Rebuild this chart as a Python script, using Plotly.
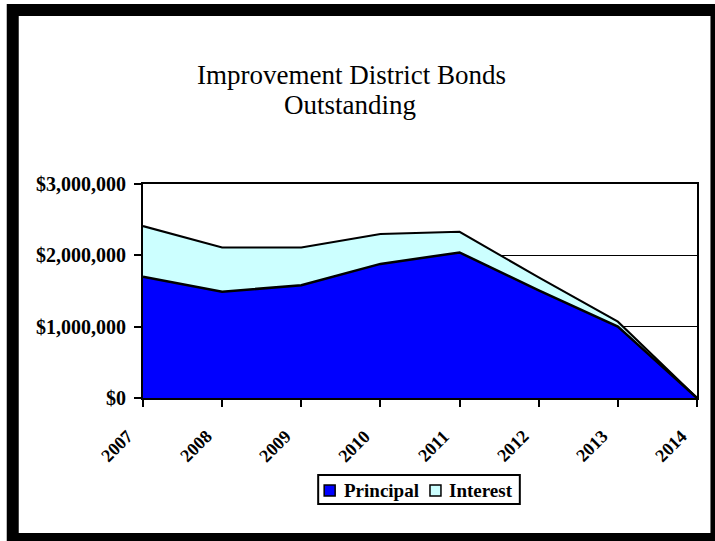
import plotly.graph_objects as go

years = ["2007", "2008", "2009", "2010", "2011", "2012", "2013", "2014"]
principal = [1700000, 1490000, 1580000, 1880000, 2040000, 1510000, 1000000, 0]
interest = [710000, 620000, 530000, 420000, 290000, 180000, 70000, 0]
series_names = ["Principal", "Interest"]
series_colors = ["#0000FF", "#CCFFFF"]
y_ticks = [0, 1000000, 2000000, 3000000]
title_lines = ["Improvement District Bonds", "Outstanding"]

W, H = 715, 541
L, R, T, B = 142.5, 697.5, 184, 398

def px(x):
    return (x - L) / (R - L)

def py(y):
    return (B - y) / (B - T)

SERIF = "Liberation Serif, Times New Roman, serif"

fig = go.Figure()
for name, vals, col, lw in zip(series_names, [principal, interest], series_colors, [2.5, 2]):
    fig.add_trace(go.Scatter(
        x=years, y=vals, mode="lines", stackgroup="one", name=name,
        line=dict(color="black", width=lw), fillcolor=col, showlegend=False,
        hoverinfo="skip",
    ))

annotations = []
annotations.append(dict(text=title_lines[0], x=px(351), y=py(75), xref="paper", yref="paper",
                        xanchor="center", yanchor="middle", showarrow=False,
                        font=dict(family=SERIF, size=27, color="black")))
annotations.append(dict(text=title_lines[1], x=px(350), y=py(105), xref="paper", yref="paper",
                        xanchor="center", yanchor="middle", showarrow=False,
                        font=dict(family=SERIF, size=27, color="black")))
for i, yr in enumerate(years):
    annotations.append(dict(text="<b>%s</b>" % yr, x=i, y=py(446), xref="x", yref="paper",
                            xshift=-26, xanchor="center", yanchor="middle", showarrow=False,
                            textangle=-45, font=dict(family=SERIF, size=18, color="black")))

# manual legend (box, swatches, labels)
shapes = [dict(type="rect", xref="paper", yref="paper",
               x0=px(12), x1=px(717), y0=py(10), y1=py(539),
               line=dict(color="black", width=12), fillcolor="rgba(0,0,0,0)", layer="above"),
          dict(type="rect", xref="paper", yref="paper",
               x0=px(318), x1=px(520), y0=py(475), y1=py(504),
               line=dict(color="black", width=2), fillcolor="white")]
legend_items = [(324, 342), (430, 447)]
for (sx, tx), name, col in zip(legend_items, series_names, series_colors):
    shapes.append(dict(type="rect", xref="paper", yref="paper",
                       x0=px(sx), x1=px(sx + 11), y0=py(485), y1=py(496),
                       line=dict(color="black", width=1.5), fillcolor=col))
    annotations.append(dict(text="<b>%s</b>" % name, x=px(tx), y=py(490), xref="paper", yref="paper",
                            xanchor="left", yanchor="middle", showarrow=False,
                            font=dict(family=SERIF, size=19, color="black")))

fig.update_layout(
    width=W, height=H,
    margin=dict(l=L, r=W - R, t=T, b=H - B),
    paper_bgcolor="white", plot_bgcolor="white",
    showlegend=False,
    annotations=annotations,
    shapes=shapes,
    xaxis=dict(type="category", range=[0, len(years) - 1], showgrid=False,
               showline=True, linecolor="black", linewidth=2, mirror=True,
               ticks="outside", ticklen=7, tickcolor="black", tickwidth=2,
               showticklabels=False, zeroline=False, fixedrange=True),
    yaxis=dict(range=[0, 3000000], tickvals=y_ticks, tickformat="$,.0f",
               showgrid=True, gridcolor="black", gridwidth=1,
               showline=True, linecolor="black", linewidth=2, mirror=True,
               ticks="outside", ticklen=7, tickcolor="black", tickwidth=2,
               ticklabelstandoff=4,
               tickfont=dict(family=SERIF, size=20, color="black", weight="bold"),
               zeroline=False, fixedrange=True),
)

fig.write_html("out.html")
